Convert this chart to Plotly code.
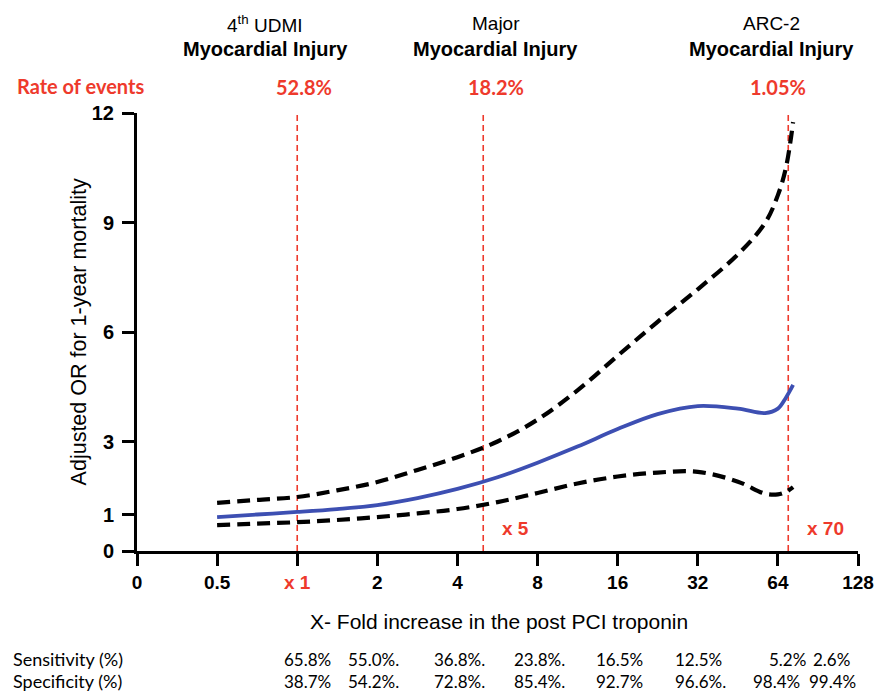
import math
import plotly.graph_objects as go

# ---------------- data ----------------
fold = [0.5, 0.707, 1, 1.41, 2, 2.83, 4, 5.66, 8, 11.3, 16, 22.6, 32, 45.3, 57.3, 64, 68.6, 73]
or_mid = [0.93, 1.00, 1.07, 1.15, 1.26, 1.45, 1.70, 2.02, 2.42, 2.86, 3.34, 3.75, 3.97, 3.90, 3.78, 3.90, 4.20, 4.55]
or_upper = [1.32, 1.40, 1.48, 1.66, 1.89, 2.22, 2.57, 3.00, 3.60, 4.40, 5.35, 6.28, 7.17, 8.13, 8.99, 9.75, 10.50, 11.75]
or_lower = [0.71, 0.75, 0.79, 0.85, 0.93, 1.03, 1.15, 1.34, 1.59, 1.85, 2.04, 2.15, 2.17, 1.90, 1.57, 1.55, 1.62, 1.75]

x_tickvals = [0.25, 0.5, 1, 2, 4, 8, 16, 32, 64, 128]
x_ticktext = ["0", "0.5", "<span style='color:#EE3A2C'>x 1</span>", "2", "4", "8", "16", "32", "64", "128"]
y_tickvals = [0, 1, 3, 6, 9, 12]

cutoffs = [1, 5, 70]
cutoff_labels = ["x 1", "x 5", "x 70"]
def_top = ["4<sup>th</sup> UDMI", "Major", "ARC-2"]
def_bottom = ["Myocardial Injury", "Myocardial Injury", "Myocardial Injury"]
event_rates = ["52.8%", "18.2%", "1.05%"]

sensitivity = ["65.8%", "55.0%.", "36.8%.", "23.8%.", "16.5%", "12.5%", "5.2%", "2.6%"]
specificity = ["38.7%", "54.2%.", "72.8%.", "85.4%.", "92.7%", "96.6%.", "98.4%", "99.4%"]

# ---------------- layout helpers ----------------
W, H = 886, 691
L, R, T, B = 137, 863, 113, 551  # plot area in pixels
RED = "#EE3A2C"
BLUE = "#3D4FB2"
ARIAL = "Liberation Sans, Arial"
CALIBRI = "Lato, Open Sans"


def px(xp):
    return (xp - L) / (R - L)


def py(yp):
    return (B - yp) / (B - T)


fig = go.Figure()

dash_line = dict(color="black", width=4.2, dash="13px,7px", shape="spline", smoothing=1.0)
fig.add_trace(go.Scatter(x=fold, y=or_upper, mode="lines", line=dash_line,
                         hoverinfo="skip", showlegend=False))
fig.add_trace(go.Scatter(x=fold, y=or_lower, mode="lines", line=dash_line,
                         hoverinfo="skip", showlegend=False))
fig.add_trace(go.Scatter(x=fold, y=or_mid, mode="lines",
                         line=dict(color=BLUE, width=3.8, shape="spline", smoothing=1.0),
                         hoverinfo="skip", showlegend=False))

shapes = []
for c in cutoffs:
    shapes.append(dict(type="line", xref="x", yref="y", x0=c, x1=c, y0=0, y1=12,
                       line=dict(color=RED, width=1.6, dash="6px,4px"), layer="below"))

annotations = []
# definition headers
head_x = [266, 498, 776]
for hx, t1, t2 in zip(head_x, def_top, def_bottom):
    annotations.append(dict(x=px(hx), y=py(24), xref="paper", yref="paper", text=t1, showarrow=False,
                            font=dict(family=ARIAL, size=19, color="black"),
                            xanchor="center", yanchor="middle"))
    annotations.append(dict(x=px(hx), y=py(49), xref="paper", yref="paper", text="<b>" + t2 + "</b>",
                            showarrow=False, font=dict(family=ARIAL, size=20, color="black"),
                            xanchor="center", yanchor="middle"))

# rate of events
annotations.append(dict(x=px(80), y=py(86), xref="paper", yref="paper", text="<b>Rate of events</b>",
                        showarrow=False, font=dict(family=CALIBRI, size=20, color=RED),
                        xanchor="center", yanchor="middle"))
rate_x = [305, 498, 782]
for rx, rt in zip(rate_x, event_rates):
    annotations.append(dict(x=px(rx), y=py(87), xref="paper", yref="paper", text="<b>" + rt + "</b>",
                            showarrow=False, font=dict(family=CALIBRI, size=20, color=RED),
                            xanchor="center", yanchor="middle"))

# cutoff labels x 5, x 70 inside plot
for c, lab in zip(cutoffs[1:], cutoff_labels[1:]):
    annotations.append(dict(x=math.log10(c), y=py(528), xref="x", yref="paper", text="<b>" + lab + "</b>",
                            showarrow=False, font=dict(family=ARIAL, size=19, color=RED),
                            xanchor="left", yanchor="middle", xshift=17))

# axis titles
annotations.append(dict(x=px(502), y=py(621), xref="paper", yref="paper",
                        text="X- Fold increase in the post PCI troponin", showarrow=False,
                        font=dict(family=ARIAL, size=21, color="black"),
                        xanchor="center", yanchor="middle"))
annotations.append(dict(x=px(79), y=py(332), xref="paper", yref="paper",
                        text="Adjusted OR for 1-year mortality", showarrow=False, textangle=-90,
                        font=dict(family=ARIAL, size=21.5, color="black"),
                        xanchor="center", yanchor="middle"))

# sensitivity / specificity table
annotations.append(dict(x=px(10), y=py(659), xref="paper", yref="paper", text="Sensitivity (%)",
                        showarrow=False, font=dict(family=CALIBRI, size=18, color="black"),
                        xanchor="left", yanchor="middle"))
annotations.append(dict(x=px(10), y=py(681), xref="paper", yref="paper", text="Specificity (%)",
                        showarrow=False, font=dict(family=CALIBRI, size=18, color="black"),
                        xanchor="left", yanchor="middle"))
sens_x = [283, 347, 434, 515, 597, 677, 771, 816]
spec_x = [283, 347, 434, 515, 597, 677, 755, 812]
for sx, cx, s, sp in zip(sens_x, spec_x, sensitivity, specificity):
    annotations.append(dict(x=px(sx), y=py(659), xref="paper", yref="paper", text=s, showarrow=False,
                            font=dict(family=CALIBRI, size=17, color="black"),
                            xanchor="left", yanchor="middle"))
    annotations.append(dict(x=px(cx), y=py(681), xref="paper", yref="paper", text=sp, showarrow=False,
                            font=dict(family=CALIBRI, size=17, color="black"),
                            xanchor="left", yanchor="middle"))

fig.update_layout(
    width=W, height=H,
    margin=dict(l=L, r=W - R, t=T, b=H - B, pad=0),
    paper_bgcolor="white", plot_bgcolor="white",
    shapes=shapes, annotations=annotations,
    showlegend=False,
    xaxis=dict(type="log", range=[math.log10(0.25), math.log10(128)], tickmode="array",
               tickvals=x_tickvals, ticktext=x_ticktext, showgrid=False, zeroline=False, showline=True,
               linecolor="black", linewidth=3, ticks="outside", ticklen=12, tickwidth=3, tickcolor="black",
               tickfont=dict(family=ARIAL, size=19, color="black", weight="bold")),
    yaxis=dict(range=[0, 12], tickmode="array", tickvals=y_tickvals, showgrid=False, zeroline=False,
               showline=True, linecolor="black", linewidth=3, ticks="outside", ticklen=12, tickwidth=3,
               tickcolor="black", ticklabelstandoff=4,
               tickfont=dict(family=ARIAL, size=20, color="black", weight="bold")),
)

fig.write_html("out.html")
